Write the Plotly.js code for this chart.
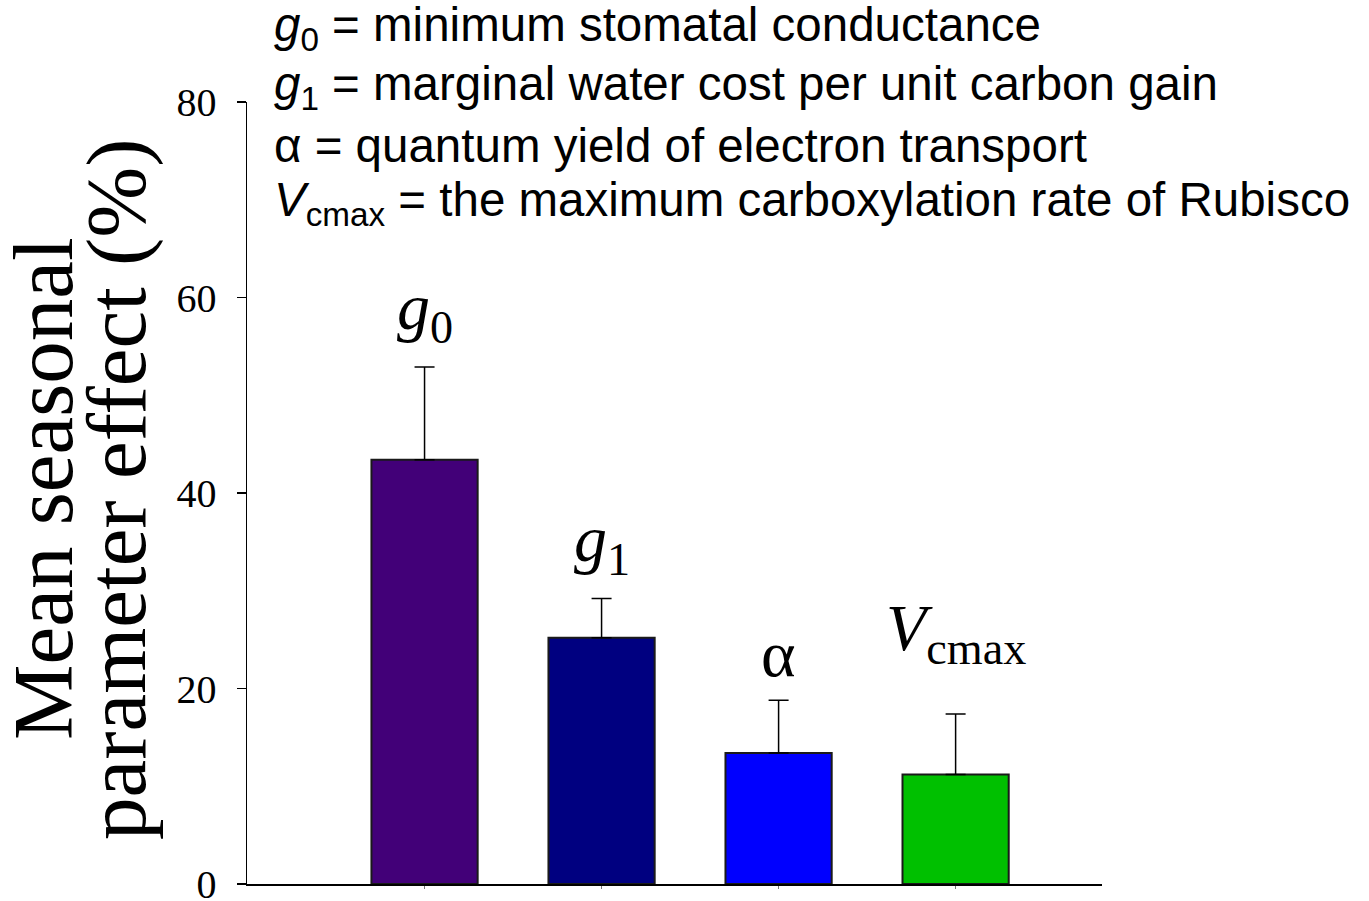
<!DOCTYPE html>
<html>
<head>
<meta charset="utf-8">
<script src="https://cdn.plot.ly/plotly-3.0.1.min.js"></script>
<style>html,body{margin:0;padding:0;background:#fff;}</style>
</head>
<body>
<div id="chart" style="width:1369px;height:901px;"></div>
<script>
// ---- data ----
const categories = ['g0', 'g1', 'alpha', 'Vcmax'];
const barLabels = ['<i>g</i><sub>0</sub>', '<i>g</i><sub>1</sub>', 'α', '<i>V</i><sub>cmax</sub>'];
const values = [43.4, 25.2, 13.4, 11.2];
const errors = [9.5, 4.0, 5.4, 6.2];
const yTicks = [0, 20, 40, 60, 80];
const definitions = [
  '<i>g</i><sub>0</sub> = minimum stomatal conductance',
  '<i>g</i><sub>1</sub> = marginal water cost per unit carbon gain',
  'α = quantum yield of electron transport',
  '<i>V</i><sub>cmax</sub> = the maximum carboxylation rate of Rubisco'
];
const yTitleLines = ['Mean seasonal', 'parameter effect (%)'];

// ---- styles / placement ----
const barColors = ['#420078', '#000080', '#0000ff', '#00c000'];
const labelYShift = [12, 12, 8, 38];
const serif = 'Liberation Serif, Times New Roman, serif';
const sans = 'Liberation Sans, Arial, sans-serif';

const W = 1369, H = 901;
const M = {l: 247, r: 267, t: 102, b: 17};
const plotH = H - M.t - M.b;
const plotW = W - M.l - M.r;
const py = p => (H - M.b - p) / plotH;   // pixel y -> paper y
const px = p => (p - M.l) / plotW;       // pixel x -> paper x

const trace = {
  type: 'bar',
  x: categories,
  y: values,
  width: 0.6,
  marker: {color: barColors, line: {color: '#1a1a1a', width: 2}},
  error_y: {type: 'data', array: errors, arrayminus: errors.map(() => 0), symmetric: false,
            color: '#000', thickness: 1.5, width: 10},
  hoverinfo: 'x+y'
};

const annotations = [];
// definition lines
const defCenters = [28, 87, 145, 203];
definitions.forEach((t, i) => {
  annotations.push({xref: 'paper', yref: 'paper', x: px(272), y: py(defCenters[i]),
    xanchor: 'left', yanchor: 'middle', text: t, showarrow: false,
    font: {family: sans, size: 47.5, color: '#000'}});
});
// bar labels
categories.forEach((c, i) => {
  annotations.push({xref: 'x', yref: 'y', x: c, y: values[i] + errors[i],
    xanchor: 'center', yanchor: 'bottom', yshift: labelYShift[i], text: barLabels[i], showarrow: false,
    font: {family: serif, size: 66, color: '#000'}});
});
// y title lines
const yTitleX = [43, 116];
yTitleLines.forEach((t, i) => {
  annotations.push({xref: 'paper', yref: 'paper', x: px(yTitleX[i]), y: 0.505,
    xanchor: 'center', yanchor: 'middle', textangle: -90, text: t, showarrow: false,
    font: {family: serif, size: 85, color: '#000'}});
});

const layout = {
  width: W, height: H,
  margin: M,
  paper_bgcolor: '#fff', plot_bgcolor: '#fff',
  showlegend: false,
  xaxis: {type: 'category', range: [-1.003, 3.827], showticklabels: false,
          showline: true, linecolor: '#000', linewidth: 2,
          ticks: 'outside', ticklen: 3, tickwidth: 1, tickcolor: '#777',
          showgrid: false, zeroline: false, fixedrange: true},
  yaxis: {range: [0, 80], tickvals: yTicks, ticktext: yTicks.map(String),
          showline: true, linecolor: '#000', linewidth: 1.5,
          ticks: 'outside', ticklen: 9, tickwidth: 1.5, tickcolor: '#000',
          ticklabelstandoff: 12, ticklabeloverflow: 'allow',
          tickfont: {family: serif, size: 40, color: '#000'},
          showgrid: false, zeroline: false, fixedrange: true},
  annotations: annotations
};

Plotly.newPlot('chart', [trace], layout, {displayModeBar: false, staticPlot: true});
</script>
</body>
</html>
